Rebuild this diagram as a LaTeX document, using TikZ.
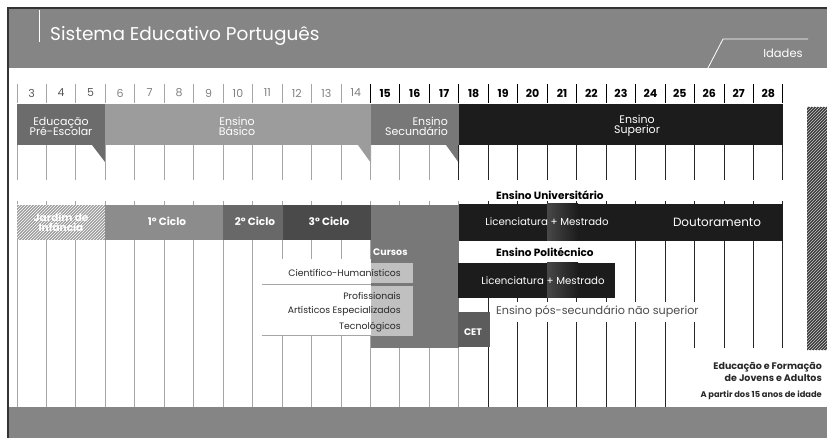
\documentclass[tikz,border=0pt]{standalone}
\usepackage{fontspec}
\setmainfont{Poppins}
\usepackage{tikz}
\usetikzlibrary{patterns}

\definecolor{hdrgray}{RGB}{133,133,133}
\definecolor{preesc}{RGB}{108,108,108}
\definecolor{basico}{RGB}{156,156,156}
\definecolor{secund}{RGB}{120,120,120}
\definecolor{superior}{RGB}{28,28,28}
\definecolor{cicloa}{RGB}{140,140,140}
\definecolor{ciclob}{RGB}{104,104,104}
\definecolor{cicloc}{RGB}{74,74,74}
\definecolor{cetgray}{RGB}{92,92,92}
\definecolor{cursogray}{RGB}{192,192,192}
\definecolor{gridgray}{RGB}{165,165,165}
\definecolor{txtdark}{RGB}{40,40,40}

\begin{document}
\begin{tikzpicture}[x=1pt,y=1pt,yscale=-1,
  wtxt/.style={text=white,inner sep=0pt,align=center,font=\fontsize{11}{12}\selectfont},
  wbold/.style={text=white,inner sep=0pt,align=center,font=\bfseries\fontsize{10.5}{11}\selectfont},
  agelo/.style={inner sep=0pt,font=\fontsize{11}{12}\selectfont},
  agehi/.style={inner sep=0pt,text=black,font=\bfseries\fontsize{11}{12}\selectfont},
  headtxt/.style={inner sep=0pt,anchor=west,text=black,font=\bfseries\fontsize{10.5}{12}\selectfont},
  cursotxt/.style={inner sep=0pt,anchor=east,text=txtdark,font=\fontsize{9.3}{10}\selectfont},
  adulttxt/.style={inner sep=0pt,anchor=east,align=right,text=txtdark,font=\bfseries\fontsize{9.5}{12}\selectfont}]
\useasboundingbox (0,0) rectangle (827,438);

%Shape: header and bottom band
\fill[hdrgray] (8,8) rectangle (827,68);
\fill[hdrgray] (8,407) rectangle (827,438);
\draw[line width=1.2pt,black!80] (8,438) -- (8,8) -- (827,8);
\draw[white,line width=1pt] (39,10) -- (39,42);
\draw[white,line width=0.8pt] (708,68) -- (723,39) -- (808,39);

% Text Node
\node[anchor=west,inner sep=0pt,text=white,font=\fontsize{18.5}{20}\selectfont] (title) at (50,36) {Sistema Educativo Português};
% Text Node
\node[inner sep=0pt,text=white,font=\fontsize{11.5}{12}\selectfont] (idades) at (783,53) {Idades};

% ages
\foreach \k in {0,...,26}{
  \pgfmathsetmacro\xs{17+\k*29.46}
  \ifnum\k<12 \draw[gridgray,line width=1pt] (\xs,84) -- (\xs,103);
  \else \draw[black,line width=1pt] (\xs,84) -- (\xs,103); \fi
}
\foreach \a in {3,...,28}{
  \pgfmathsetmacro\xc{17+(\a-3)*29.46+14.73}
  \ifnum\a<6 \node[agelo,text=black!65] (age\a) at (\xc,93) {\a};
  \else\ifnum\a<15 \node[agelo,text=black!50] (age\a) at (\xc,93) {\a};
  \else \node[agehi] (age\a) at (\xc,93) {\a}; \fi\fi
}

%Shape: level bars
\fill[preesc] (17,104) rectangle (105,145);
\fill[preesc] (92,145) -- (105,145) -- (105,162) -- cycle;
\fill[basico] (105,104) rectangle (371,145);
\fill[basico] (358,145) -- (371,145) -- (371,163) -- cycle;
\fill[secund] (371,104) rectangle (459,145);
\fill[secund] (446,145) -- (459,145) -- (459,163) -- cycle;
\fill[superior] (459,104) rectangle (783,145);

% Text Node
\node[wtxt] (preescolar) at (61,126) {Educação\\[-2pt]Pré-Escolar};
% Text Node
\node[wtxt] (basicotxt) at (237,126) {Ensino\\[-2pt]Básico};
% Text Node
\node[wtxt,anchor=east,align=right] (secundtxt) at (448,126) {Ensino\\[-2pt]Secundário};
% Text Node
\node[wtxt] (superiortxt) at (637,126) {Ensino\\[-2pt]Superior};

% column lines
\foreach \k in {0,...,26}{
  \pgfmathsetmacro\xs{17+\k*29.46}
  \ifnum\k<15 \draw[gridgray,line width=1pt] (\xs,145) -- (\xs,180);
  \else \draw[black!85,line width=1pt] (\xs,145) -- (\xs,180); \fi
  \ifnum\k<16 \draw[gridgray,line width=1pt] (\xs,201) -- (\xs,407);
  \else\ifnum\k<23 \draw[black!85,line width=1pt] (\xs,201) -- (\xs,407);
  \else \draw[black!85,line width=1pt] (\xs,201) -- (\xs,348); \fi\fi
}

%Shape: cycles
\fill[cicloa!85] (17,205) rectangle (105,240);
\fill[pattern=north east lines,pattern color=white] (17,205) rectangle (105,240);
\fill[cicloa] (105,205) rectangle (223,240);
\fill[ciclob] (223,205) rectangle (283,240);
\fill[cicloc] (283,205) rectangle (371,240);
\fill[secund] (371,205) rectangle (459,348);

% Text Node
\node[wbold] (jardim) at (61,222) {Jardim de\\[-1pt]Infância};
% Text Node
\node[wbold] (ciclo1) at (167,221) {1º Ciclo};
% Text Node
\node[wbold] (ciclo2) at (255,221) {2º Ciclo};
% Text Node
\node[wbold] (ciclo3) at (329,221) {3º Ciclo};

%Shape: courses
\fill[white] (262,259) rectangle (371,335);
\draw[gridgray,line width=0.8pt] (262,284) -- (371,284);
\draw[gridgray,line width=0.8pt] (262,335) -- (371,335);
\fill[cursogray] (371,263) rectangle (413,283);
\fill[cursogray] (371,286) rectangle (413,336);

% Text Node
\node[wbold,anchor=west,font=\bfseries\fontsize{9.5}{10}\selectfont] (cursos) at (373,252) {Cursos};
% Text Node
\node[cursotxt] (cientif) at (401,273) {Científico-Humanísticos};
% Text Node
\node[cursotxt] (profis) at (401,296) {Profissionais};
% Text Node
\node[cursotxt] (artist) at (401,311) {Artísticos Especializados};
% Text Node
\node[cursotxt] (tecno) at (401,327) {Tecnológicos};

%Shape: higher education
\fill[superior] (459,204) rectangle (783,241);
\shade[left color=black!72,right color=superior] (547,204) rectangle (578,241);
\fill[white] (488,241) rectangle (620,263);
\fill[superior] (458,263) rectangle (615,298);
\shade[left color=black!72,right color=superior] (547,263) rectangle (578,298);
\fill[white] (490,302) rectangle (700,322);
\fill[cetgray] (458,312) rectangle (490,347);

% Text Node
\node[headtxt] (univ) at (496,195) {Ensino Universitário};
% Text Node
\node[wtxt,font=\fontsize{10.2}{11}\selectfont] (licuniv) at (547,222) {Licenciatura + Mestrado};
% Text Node
\node[wtxt,font=\fontsize{12}{13}\selectfont] (dout) at (717,222) {Doutoramento};
% Text Node
\node[headtxt] (polit) at (496,252) {Ensino Politécnico};
% Text Node
\node[wtxt,font=\fontsize{10.2}{11}\selectfont] (licpolit) at (543,281) {Licenciatura + Mestrado};
% Text Node
\node[headtxt,text=black!70,font=\fontsize{11.2}{12}\selectfont] (possec) at (496,312) {Ensino pós-secundário não superior};
% Text Node
\node[wbold,font=\bfseries\fontsize{9.5}{10}\selectfont] (cet) at (473,332) {CET};

%Shape: adult education strip
\fill[black!78] (807,107) rectangle (827,350);
\fill[pattern=north east lines,pattern color=white!80!black] (807,107) rectangle (827,350);

% Text Node
\node[adulttxt] (adultos) at (822,372) {Educação e Formação\\de Jovens e Adultos};
% Text Node
\node[adulttxt,font=\bfseries\fontsize{8.3}{9}\selectfont] (idade15) at (822,395) {A partir dos 15 anos de idade};

\end{tikzpicture}
\end{document}
